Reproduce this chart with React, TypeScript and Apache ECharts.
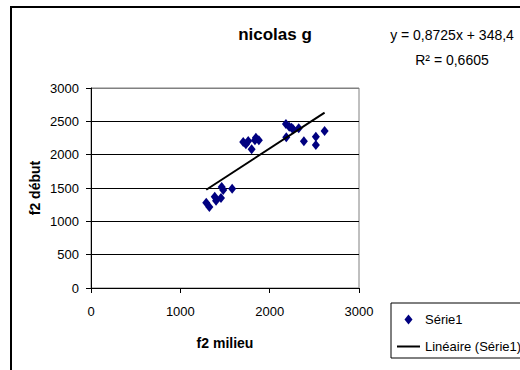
import React, { useEffect, useRef } from "react";
import * as echarts from "echarts";

const f2Milieu = [1290, 1325, 1385, 1400, 1455, 1463, 1480, 1580, 1704, 1734, 1760, 1798, 1835, 1846, 1879, 2182, 2186, 2219, 2245, 2263, 2325, 2383, 2517, 2517, 2615];
const f2Debut = [1280, 1215, 1370, 1310, 1350, 1515, 1470, 1490, 2190, 2155, 2205, 2080, 2215, 2255, 2215, 2460, 2260, 2420, 2405, 2380, 2395, 2200, 2270, 2145, 2355];
const slope = 0.8725;
const intercept = 348.4;
const yTicks = [0, 500, 1000, 1500, 2000, 2500, 3000];
const xTicks = [0, 1000, 2000, 3000];
const titleText = "nicolas g";
const equationText = "y = 0,8725x + 348,4";
const r2Text = "R² = 0,6605";
const seriesName = "Série1";
const trendName = "Linéaire (Série1)";

const FONT = "'Liberation Sans', Arial, Helvetica, sans-serif";

export default function App() {
  const ref = useRef<HTMLDivElement>(null);
  useEffect(() => {
    if (!ref.current) return;
    const chart = echarts.init(ref.current, undefined, { renderer: "svg" });
    const points = f2Milieu.map((x, i) => [x, f2Debut[i]]);
    const xMin = Math.min(...f2Milieu);
    const xMax = Math.max(...f2Milieu);
    const trend = [
      [xMin, slope * xMin + intercept],
      [xMax, slope * xMax + intercept],
    ];
    const gridColors = yTicks.map((v, i) => (i === yTicks.length - 1 ? "#808080" : "#000"));
    chart.setOption({
      animation: false,
      backgroundColor: "#fff",
      textStyle: { fontFamily: FONT, color: "#000" },
      title: {
        text: titleText,
        left: 270,
        top: 21,
        textAlign: "center",
        textStyle: { fontFamily: FONT, fontSize: 17, fontWeight: "bold", color: "#000" },
      },
      grid: {
        left: 91,
        top: 88,
        width: 268,
        height: 200,
        show: true,
        borderColor: "#808080",
        borderWidth: 1,
        backgroundColor: "#fff",
      },
      xAxis: {
        type: "value",
        min: xTicks[0],
        max: xTicks[xTicks.length - 1],
        interval: 1000,
        name: "f2 milieu",
        nameLocation: "middle",
        nameGap: 48,
        nameMoveOverlap: false,
        nameTextStyle: { fontFamily: FONT, fontSize: 14, fontWeight: "bold", color: "#000" },
        axisLine: { show: true, onZero: false, lineStyle: { color: "#000", width: 1 } },
        axisTick: { show: true, inside: false, length: 5, lineStyle: { color: "#000" } },
        axisLabel: { margin: 17, fontFamily: FONT, fontSize: 13, color: "#000", formatter: (v: number) => String(v) },
        splitLine: { show: false },
      },
      yAxis: {
        type: "value",
        min: yTicks[0],
        max: yTicks[yTicks.length - 1],
        interval: 500,
        name: "f2 début",
        nameLocation: "middle",
        nameGap: 49,
        nameMoveOverlap: false,
        nameTextStyle: { fontFamily: FONT, fontSize: 14, fontWeight: "bold", color: "#000" },
        axisLine: { show: true, onZero: false, lineStyle: { color: "#000", width: 1 } },
        axisTick: { show: true, inside: false, length: 5, lineStyle: { color: "#000" } },
        axisLabel: { margin: 12, fontFamily: FONT, fontSize: 13, color: "#000", formatter: (v: number) => String(v) },
        splitLine: { show: true, lineStyle: { color: gridColors, width: 1 } },
      },
      legend: {
        orient: "vertical",
        left: 391,
        top: 303,
        borderColor: "#000",
        borderWidth: 1,
        padding: [10, 40, 5, 6],
        itemWidth: 23,
        itemHeight: 10,
        itemGap: 14,
        symbolKeepAspect: true,
        textStyle: { fontFamily: FONT, fontSize: 13, color: "#000" },
        data: [
          { name: seriesName, icon: "path://M4,0 L8,5 L4,10 L0,5 Z", itemStyle: { color: "#000080" } },
          { name: trendName, icon: "path://M0,0 L23,0 L23,2 L0,2 Z", itemStyle: { color: "#000" } },
        ],
      },
      graphic: [
        {
          type: "rect",
          shape: { x: 11, y: 7, width: 600, height: 420 },
          style: { fill: "none", stroke: "#000", lineWidth: 2 },
          z: 10,
        },
        {
          type: "text",
          x: 452,
          y: 35,
          style: {
            text: equationText,
            fontFamily: FONT,
            fontSize: 14,
            fill: "#000",
            align: "center",
            verticalAlign: "middle",
          },
        },
        {
          type: "text",
          x: 452,
          y: 60,
          style: {
            text: r2Text,
            fontFamily: FONT,
            fontSize: 14,
            fill: "#000",
            align: "center",
            verticalAlign: "middle",
          },
        },
      ],
      series: [
        {
          name: seriesName,
          type: "scatter",
          symbol: "diamond",
          symbolSize: [8, 10],
          itemStyle: { color: "#000080", opacity: 1 },
          data: points,
          z: 3,
        },
        {
          name: trendName,
          type: "line",
          data: trend,
          showSymbol: false,
          symbol: "none",
          lineStyle: { color: "#000", width: 2 },
          itemStyle: { color: "#000" },
          z: 4,
        },
      ],
    });
    return () => chart.dispose();
  }, []);
  return (
    <div
      ref={ref}
      style={{ position: "absolute", left: 0, top: 0, width: 520, height: 370, background: "#fff" }}
    />
  );
}
